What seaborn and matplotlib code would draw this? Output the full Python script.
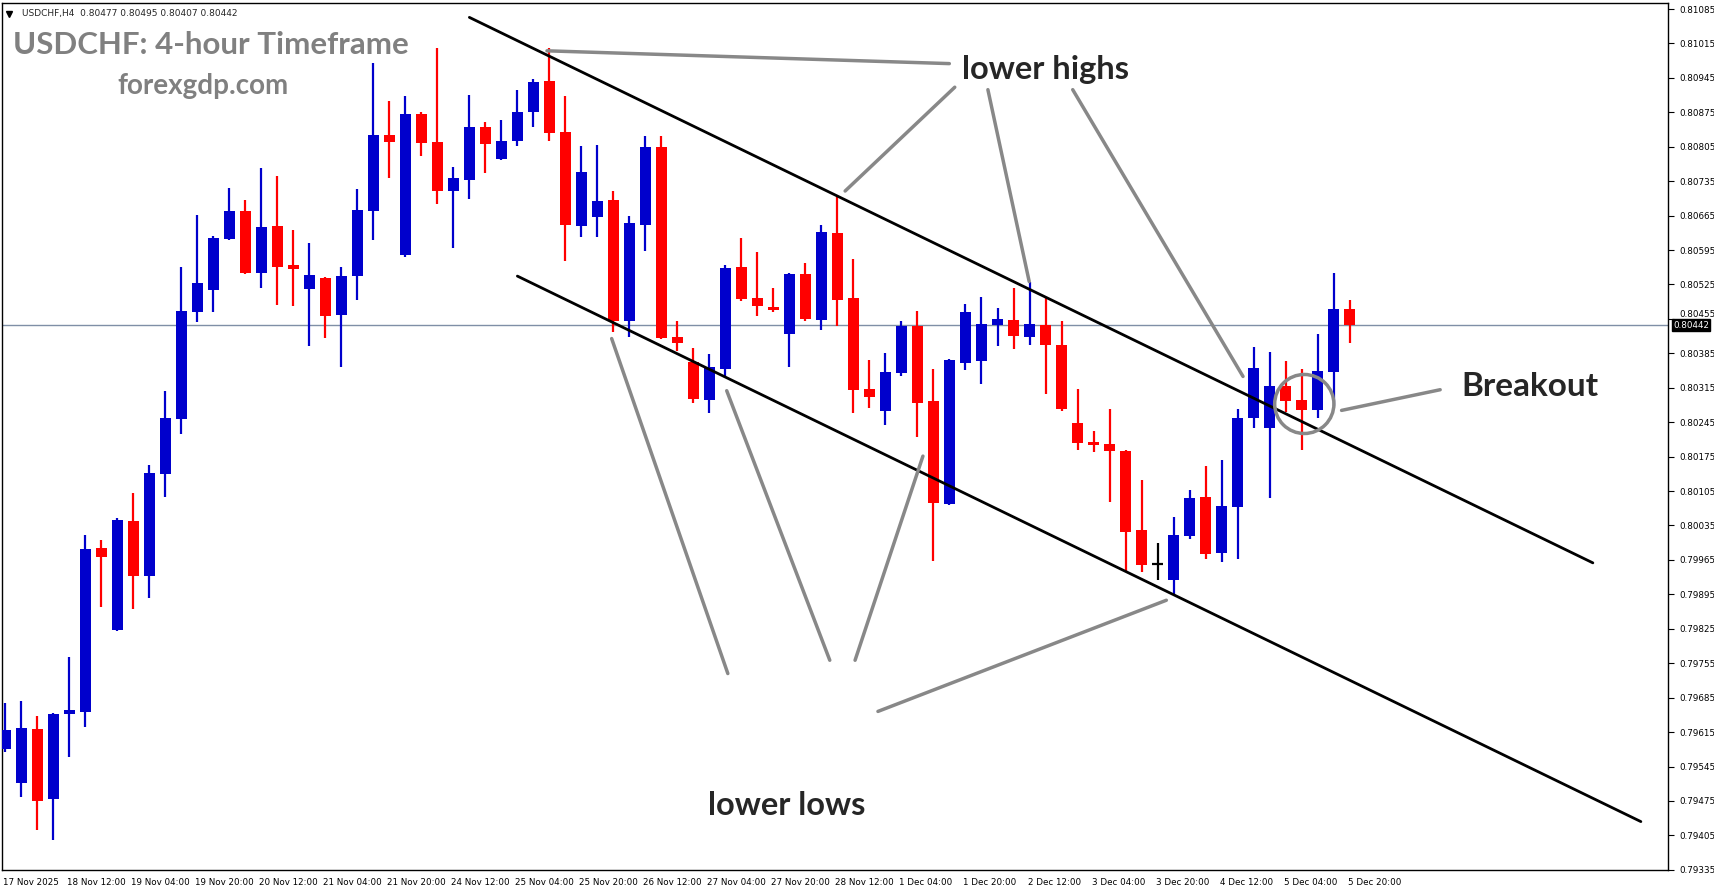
import matplotlib
matplotlib.use("Agg")
import matplotlib.pyplot as plt
import matplotlib.transforms as mtransforms
from matplotlib.patches import Ellipse
import seaborn as sns
import numpy as np

# USDCHF H4 candles, 17 Nov 20:00 .. 5 Dec 20:00
opens = [0.79581, 0.79512, 0.79621, 0.79478, 0.79651, 0.79655, 0.79989, 0.79823, 0.80044, 0.79932,
         0.80139, 0.80252, 0.80470, 0.80513, 0.80618, 0.80675, 0.80549, 0.80644, 0.80565, 0.80515,
         0.80539, 0.80462, 0.80543, 0.80675, 0.80828, 0.80584, 0.80871, 0.80814, 0.80715, 0.80737,
         0.80846, 0.80780, 0.80816, 0.80875, 0.80939, 0.80834, 0.80644, 0.80662, 0.80697, 0.80450,
         0.80646, 0.80804, 0.80418, 0.80367, 0.80290, 0.80353, 0.80561, 0.80497, 0.80480, 0.80424,
         0.80547, 0.80452, 0.80630, 0.80497, 0.80313, 0.80268, 0.80345, 0.80440, 0.80288, 0.80078,
         0.80365, 0.80369, 0.80442, 0.80452, 0.80418, 0.80442, 0.80402, 0.80244, 0.80205, 0.80201,
         0.80187, 0.80025, 0.79956, 0.79924, 0.80013, 0.80092, 0.79979, 0.80072, 0.80254, 0.80234,
         0.80319, 0.80290, 0.80270, 0.80347, 0.80476]
closes = [0.79619, 0.79623, 0.79474, 0.79651, 0.79660, 0.79987, 0.79971, 0.80046, 0.79932, 0.80141,
          0.80254, 0.80472, 0.80527, 0.80620, 0.80675, 0.80549, 0.80642, 0.80561, 0.80557, 0.80545,
          0.80460, 0.80543, 0.80677, 0.80828, 0.80814, 0.80871, 0.80812, 0.80715, 0.80741, 0.80846,
          0.80810, 0.80816, 0.80875, 0.80937, 0.80832, 0.80646, 0.80753, 0.80695, 0.80450, 0.80650,
          0.80804, 0.80416, 0.80406, 0.80292, 0.80357, 0.80559, 0.80495, 0.80482, 0.80474, 0.80547,
          0.80454, 0.80632, 0.80493, 0.80311, 0.80296, 0.80347, 0.80440, 0.80284, 0.80080, 0.80371,
          0.80468, 0.80444, 0.80454, 0.80420, 0.80444, 0.80402, 0.80272, 0.80203, 0.80199, 0.80187,
          0.80021, 0.79955, 0.79956, 0.80015, 0.80090, 0.79977, 0.80074, 0.80254, 0.80355, 0.80319,
          0.80288, 0.80270, 0.80349, 0.80476, 0.80442]
highs = [0.79674, 0.79678, 0.79647, 0.79653, 0.79767, 0.80015, 0.80005, 0.80050, 0.80102, 0.80157,
         0.80309, 0.80561, 0.80666, 0.80624, 0.80721, 0.80697, 0.80762, 0.80745, 0.80636, 0.80610,
         0.80541, 0.80561, 0.80719, 0.80976, 0.80897, 0.80909, 0.80875, 0.81006, 0.80764, 0.80911,
         0.80855, 0.80859, 0.80921, 0.80943, 0.81006, 0.80909, 0.80806, 0.80808, 0.80715, 0.80664,
         0.80826, 0.80826, 0.80450, 0.80395, 0.80383, 0.80565, 0.80620, 0.80592, 0.80517, 0.80549,
         0.80569, 0.80646, 0.80703, 0.80577, 0.80371, 0.80385, 0.80450, 0.80472, 0.80353, 0.80373,
         0.80486, 0.80499, 0.80478, 0.80517, 0.80529, 0.80499, 0.80450, 0.80313, 0.80228, 0.80272,
         0.80189, 0.80127, 0.79999, 0.80052, 0.80108, 0.80155, 0.80169, 0.80272, 0.80398, 0.80387,
         0.80369, 0.80353, 0.80424, 0.80549, 0.80493]
lows = [0.79575, 0.79484, 0.79415, 0.79395, 0.79565, 0.79625, 0.79870, 0.79820, 0.79866, 0.79888,
        0.80092, 0.80222, 0.80448, 0.80468, 0.80616, 0.80547, 0.80517, 0.80484, 0.80482, 0.80400,
        0.80416, 0.80357, 0.80493, 0.80616, 0.80741, 0.80580, 0.80786, 0.80689, 0.80600, 0.80699,
        0.80751, 0.80778, 0.80806, 0.80846, 0.80816, 0.80573, 0.80622, 0.80622, 0.80428, 0.80418,
        0.80594, 0.80414, 0.80389, 0.80284, 0.80264, 0.80335, 0.80491, 0.80460, 0.80468, 0.80357,
        0.80450, 0.80432, 0.80440, 0.80264, 0.80274, 0.80240, 0.80339, 0.80214, 0.79963, 0.80076,
        0.80351, 0.80323, 0.80400, 0.80393, 0.80402, 0.80302, 0.80268, 0.80189, 0.80185, 0.80082,
        0.79941, 0.79941, 0.79924, 0.79894, 0.80007, 0.79967, 0.79961, 0.79967, 0.80234, 0.80090,
        0.80266, 0.80189, 0.80254, 0.80278, 0.80406]

tick_labels = ["17 Nov 2025", "18 Nov 12:00", "19 Nov 04:00", "19 Nov 20:00", "20 Nov 12:00",
               "21 Nov 04:00", "21 Nov 20:00", "24 Nov 12:00", "25 Nov 04:00", "25 Nov 20:00",
               "26 Nov 12:00", "27 Nov 04:00", "27 Nov 20:00", "28 Nov 12:00", "1 Dec 04:00",
               "1 Dec 20:00", "2 Dec 12:00", "3 Dec 04:00", "3 Dec 20:00", "4 Dec 12:00",
               "5 Dec 04:00", "5 Dec 20:00"]
price_ticks = [0.81085, 0.81015, 0.80945, 0.80875, 0.80805, 0.80735, 0.80665, 0.80595, 0.80525,
               0.80455, 0.80385, 0.80315, 0.80245, 0.80175, 0.80105, 0.80035, 0.79965, 0.79895,
               0.79825, 0.79755, 0.79685, 0.79615, 0.79545, 0.79475, 0.79405, 0.79335]
last_price = 0.80442

sns.set_style("white")
plt.rcParams["font.family"] = ["DejaVu Sans"]

o = np.array(opens); c = np.array(closes); h = np.array(highs); l = np.array(lows)
x = np.arange(len(o))
colors = np.where(c > o, "#0000cc", np.where(c < o, "#ff0000", "black"))

fig = plt.figure(figsize=(17.14, 8.88), dpi=100)
ax = fig.add_axes([0.0012, 0.0205, 0.972, 0.976])

ax.vlines(x, l, h, colors=colors, linewidth=1.6, zorder=2)
body_low = np.minimum(o, c)
body_h = np.maximum(np.abs(c - o), 0.000025)
ax.bar(x, body_h, bottom=body_low, width=0.68, color=colors, linewidth=0, zorder=3)
# doji marker
for i in np.where(c == o)[0]:
    ax.hlines(o[i], i - 0.34, i + 0.34, colors="black", linewidth=1.6, zorder=3)

ax.axhline(last_price, color="#7f8fa6", linewidth=1, zorder=1)

# channel
ax.plot([29.0, 99.2], [0.81068, 0.79959], color="black", linewidth=2, zorder=4)
ax.plot([32.0, 102.2], [0.80542, 0.79433], color="black", linewidth=2, zorder=4)

grey = "#888888"
for (x0, y0, x1, y1) in [(33.85, 0.81000, 58.99, 0.80974), (52.48, 0.80715, 59.33, 0.80926),
                         (61.4, 0.80921, 63.98, 0.80531), (66.7, 0.80921, 77.34, 0.80338),
                         (37.89, 0.80415, 45.15, 0.79734), (45.08, 0.80309, 51.52, 0.79761),
                         (57.34, 0.80176, 53.1, 0.79761), (72.55, 0.79883, 54.53, 0.79657),
                         (83.5, 0.80269, 89.66, 0.80311)]:
    ax.plot([x0, x1], [y0, y1], color=grey, linewidth=2.5, zorder=5)
ax.add_patch(Ellipse((81.17, 0.80282), 3.7, 0.0012, fill=False, edgecolor=grey, linewidth=2.5, zorder=5))

ax.text(65.0, 0.80963, "lower highs", fontsize=23.5, fontweight="bold", family="Lato",
        ha="center", va="center", zorder=6)
ax.text(48.85, 0.79466, "lower lows", fontsize=23.5, fontweight="bold", family="Lato",
        ha="center", va="center", zorder=6)
ax.text(95.3, 0.80318, "Breakout", fontsize=24, fontweight="bold", family="Lato",
        ha="center", va="center", zorder=6)

ax.text(0.0065, 0.952, "USDCHF: 4-hour Timeframe", transform=ax.transAxes, fontsize=22.5,
        fontweight="bold", family="Lato", color="#808080", ha="left", va="center")
ax.text(0.1205, 0.904, "forexgdp.com", transform=ax.transAxes, fontsize=20,
        fontweight="bold", family="Lato", color="#808080", ha="center", va="center")
ax.text(0.012, 0.993, "USDCHF,H4  0.80477 0.80495 0.80407 0.80442", transform=ax.transAxes,
        fontsize=6.5, ha="left", va="top")
ax.plot([0.004], [0.9875], marker="v", markersize=4, color="black", transform=ax.transAxes)

ax.set_xlim(-0.2, 103.9)
ax.set_ylim(0.79335, 0.81097)
ax.yaxis.tick_right()
ax.set_yticks(price_ticks)
ax.set_yticklabels([f"{p:.5f}" for p in price_ticks], fontsize=6.3)
ax.set_xticks(np.arange(0, len(o), 4))
ax.set_xticklabels(tick_labels, fontsize=6.3, ha="left")
ax.tick_params(axis="both", direction="out", length=4, width=0.8, colors="black", pad=2)
ax.tick_params(axis="y", pad=4)
for lab in ax.get_xticklabels():
    lab.set_transform(lab.get_transform() + mtransforms.ScaledTranslation(-0.02, 0, fig.dpi_scale_trans))
# price label next to the current-price box is pushed up, as on the terminal
for lab in ax.get_yticklabels():
    if lab.get_text() == "0.80455":
        lab.set_transform(lab.get_transform() + mtransforms.ScaledTranslation(0, 0.05, fig.dpi_scale_trans))
for s in ax.spines.values():
    s.set_color("black"); s.set_linewidth(1)

trans = mtransforms.blended_transform_factory(ax.transAxes, ax.transData)
ax.text(1.003, last_price, f"{last_price:.5f}", transform=trans, fontsize=6.3, color="white",
        va="center", ha="left", bbox=dict(boxstyle="square,pad=0.15", fc="black", ec="black"), zorder=7)

fig.savefig("out.png", dpi=100)
